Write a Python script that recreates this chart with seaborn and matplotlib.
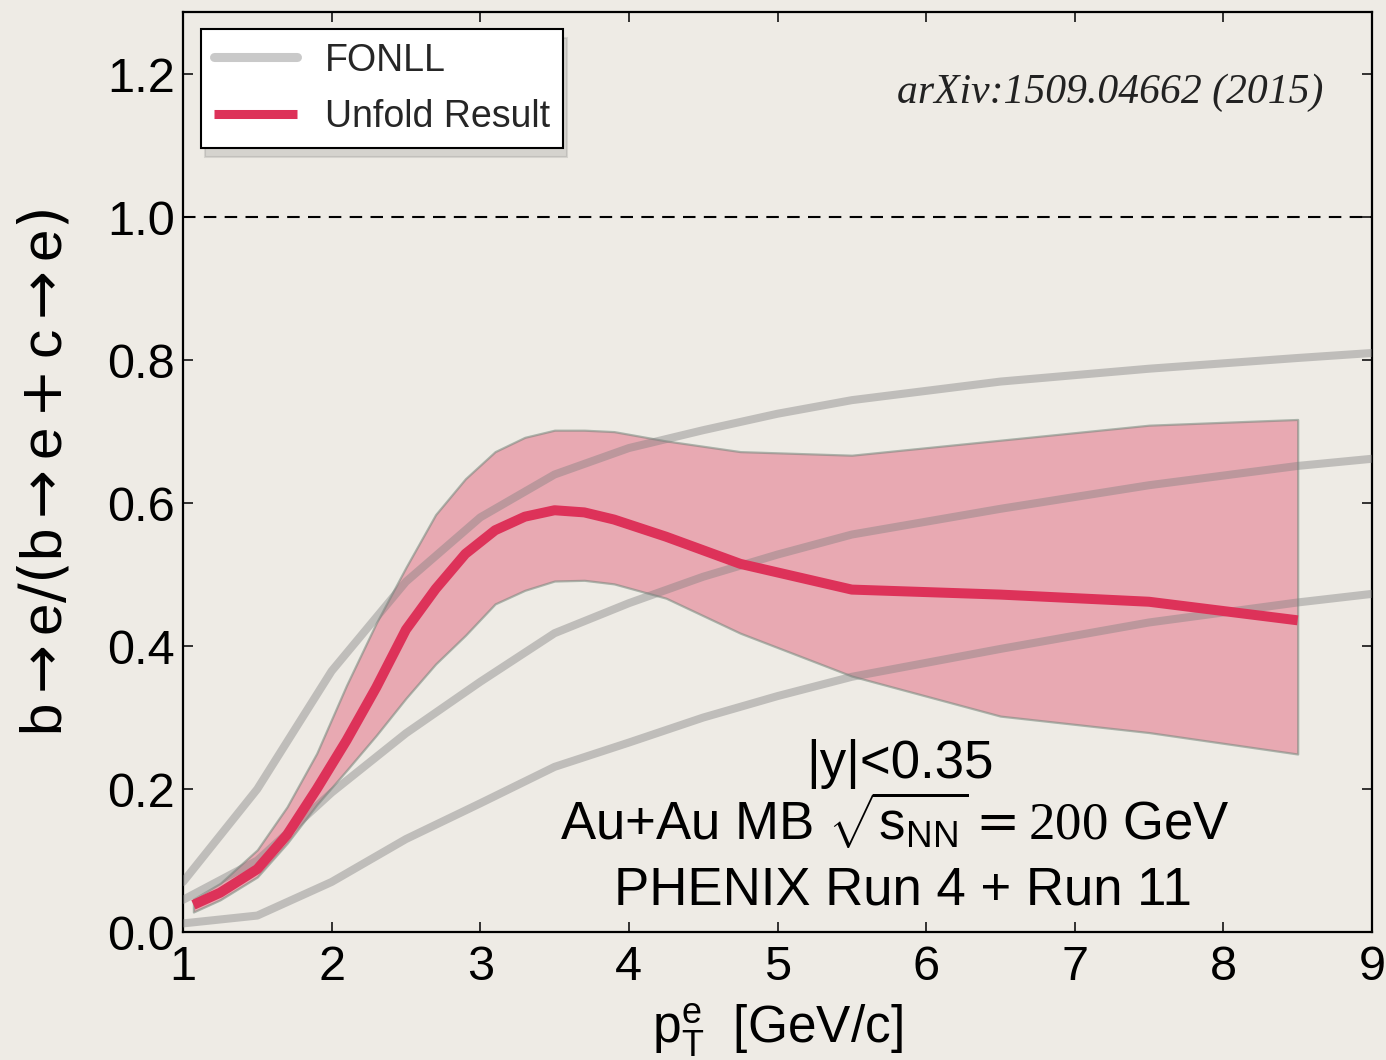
import numpy as np
import pandas as pd
import matplotlib
matplotlib.use("Agg")
import matplotlib.pyplot as plt
import seaborn as sns

# ---------------- data ----------------
fonll_x = [1.0, 1.5, 2.0, 2.5, 3.0, 3.5, 4.0, 4.5, 5.0, 5.5, 6.5, 7.5, 8.5, 9.0]
fonll_hi = [0.070, 0.200, 0.365, 0.490, 0.580, 0.640, 0.677, 0.702, 0.725, 0.744, 0.770, 0.788, 0.803, 0.810]
fonll_c = [0.045, 0.100, 0.195, 0.278, 0.350, 0.418, 0.460, 0.497, 0.528, 0.556, 0.592, 0.625, 0.652, 0.662]
fonll_lo = [0.012, 0.023, 0.070, 0.130, 0.180, 0.231, 0.265, 0.300, 0.330, 0.357, 0.396, 0.433, 0.461, 0.473]

unf_x = [1.07, 1.25, 1.5, 1.7, 1.9, 2.1, 2.3, 2.5, 2.7, 2.9, 3.1, 3.3, 3.5, 3.7, 3.9, 4.25, 4.75, 5.5, 6.5, 7.5, 8.5]
unf_y = [0.038, 0.055, 0.088, 0.136, 0.200, 0.268, 0.342, 0.423, 0.480, 0.529, 0.562, 0.581, 0.590, 0.587, 0.577, 0.553, 0.515, 0.479, 0.472, 0.462, 0.436]
unf_hi = [0.046, 0.068, 0.115, 0.175, 0.250, 0.345, 0.432, 0.510, 0.584, 0.634, 0.672, 0.692, 0.702, 0.702, 0.700, 0.687, 0.672, 0.667, 0.688, 0.709, 0.717]
unf_lo = [0.028, 0.045, 0.077, 0.124, 0.178, 0.226, 0.275, 0.327, 0.375, 0.415, 0.459, 0.478, 0.491, 0.492, 0.487, 0.467, 0.418, 0.358, 0.302, 0.279, 0.249]

x_ticks = [1, 2, 3, 4, 5, 6, 7, 8, 9]
y_ticks = [0.0, 0.2, 0.4, 0.6, 0.8, 1.0, 1.2]
y_tick_labels = ["0.0", "0.2", "0.4", "0.6", "0.8", "1.0", "1.2"]

# ---------------- style ----------------
sns.set_theme(style="ticks")
bg = "#eeebe5"
plt.rcParams["font.family"] = ["Liberation Sans", "DejaVu Sans"]
plt.rcParams["mathtext.fontset"] = "custom"
plt.rcParams["mathtext.rm"] = "DejaVu Sans"
plt.rcParams["mathtext.sf"] = "Liberation Sans"
plt.rcParams["mathtext.tt"] = "Liberation Serif"
plt.rcParams["mathtext.it"] = "Liberation Sans:italic"

fig = plt.figure(figsize=(13.86, 10.60), dpi=100, facecolor=bg)
ax = fig.add_axes([183 / 1386, 1 - 932 / 1060, (1372 - 183) / 1386, (932 - 12) / 1060])
ax.set_facecolor(bg)

red = "#dd3259"
gray = "#7f7f7f"

# band
ax.fill_between(unf_x, unf_lo, unf_hi, facecolor=(0.87, 0.19, 0.33, 0.35),
                edgecolor=(0.45, 0.52, 0.48, 0.55), linewidth=1.6, zorder=2)

# FONLL curves
df_f = pd.DataFrame({"x": fonll_x, "hi": fonll_hi, "c": fonll_c, "lo": fonll_lo})
sns.lineplot(data=df_f, x="x", y="hi", ax=ax, color=gray, alpha=0.42, lw=5.8,
             label="FONLL", zorder=3, sort=False)
sns.lineplot(data=df_f, x="x", y="c", ax=ax, color=gray, alpha=0.42, lw=5.8,
             zorder=3, sort=False)
sns.lineplot(data=df_f, x="x", y="lo", ax=ax, color=gray, alpha=0.42, lw=5.8,
             zorder=3, sort=False)

# unfold result
df_u = pd.DataFrame({"x": unf_x, "y": unf_y})
sns.lineplot(data=df_u, x="x", y="y", ax=ax, color=red, lw=7.2,
             label="Unfold Result", zorder=4, sort=False, solid_capstyle="butt")

ax.axhline(1.0, color="black", lw=1.5, ls=(0, (6, 4)), zorder=1)

ax.set_xlim(1, 9)
ax.set_ylim(0, 1.287)
ax.set_xticks(x_ticks)
ax.set_yticks(y_ticks)
ax.set_yticklabels(y_tick_labels)
ax.tick_params(axis="both", which="major", direction="in", length=7, width=1.1,
               top=True, right=True, labelsize=35, color="black", labelcolor="black")
ax.tick_params(axis="x", pad=9)
ax.tick_params(axis="y", pad=6)
for s in ax.spines.values():
    s.set_linewidth(1.6)
    s.set_color("black")

ax.set_xlabel(r"$\mathsf{p}_{\mathsf{T}}^{\mathsf{e}}$  [GeV/c]", fontsize=37, color="black")
ax.xaxis.set_label_coords(0.5, -0.075)
ax.set_ylabel(r"$\mathsf{b}\rightarrow\mathsf{e}/(\mathsf{b}\rightarrow\mathsf{e}+\mathsf{c}\rightarrow\mathsf{e})$",
              fontsize=42, color="black")
ax.yaxis.set_label_coords(-0.092, 0.5)

leg = ax.legend(loc="upper left", bbox_to_anchor=(0.0151, 0.981), fontsize=27,
                frameon=True, fancybox=False,
                shadow={"color": "0.5", "alpha": 0.22, "ox": 3, "oy": -6},
                edgecolor="black", facecolor="white", framealpha=1.0,
                handlelength=2.2, handletextpad=0.75, labelspacing=0.55,
                borderpad=0.35, borderaxespad=0.0)
leg.get_frame().set_linewidth(1.5)
for h in leg.get_lines():
    h.set_linewidth(6.5)

ax.text(8.672, 1.1734, "arXiv:1509.04662 (2015)", ha="right", va="center",
        fontsize=30, style="italic", family=["Liberation Serif", "DejaVu Serif"], color="#222222")

ax.text(5.825, 0.2154, "|y|<0.35", ha="center", va="baseline", fontsize=38, color="black")
ax.text(5.79, 0.1273, r"Au+Au MB $\sqrt{\mathsf{s}_{\mathsf{NN}}}=\mathtt{200}$ GeV",
        ha="center", va="baseline", fontsize=38, color="black")
ax.text(5.845, 0.0378, "PHENIX Run 4 + Run 11", ha="center", va="baseline", fontsize=38, color="black")

fig.savefig("out.png", dpi=100, facecolor=bg)
